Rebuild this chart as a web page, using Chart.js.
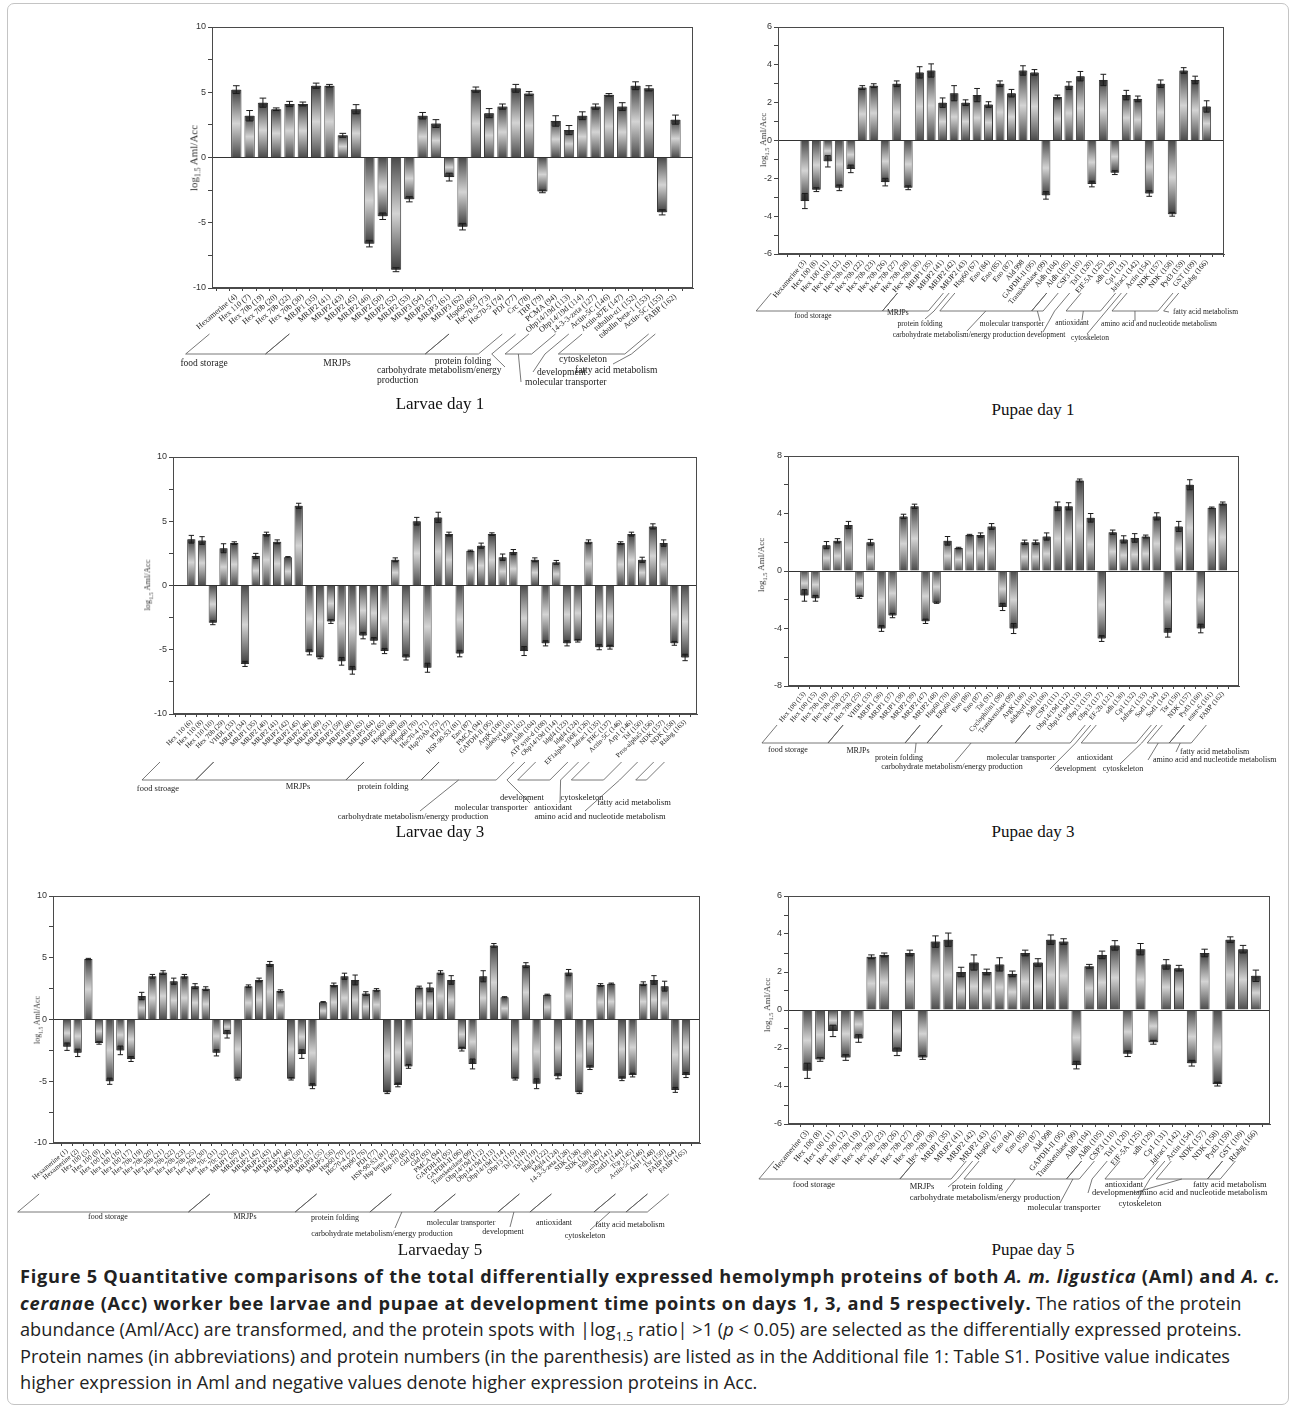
<!DOCTYPE html>
<html>
<head>
<meta charset="utf-8">
<title>Figure 5 - hemolymph proteins</title>
<script src="https://cdn.jsdelivr.net/npm/chart.js@4.4.1/dist/chart.umd.min.js"></script>
<style>
  body { margin: 0; width: 1295px; height: 1409px; position: relative; overflow: hidden; background: #fff; font-family: 'Liberation Serif', serif; }
  .frame { position: absolute; left: 7px; top: 3px; width: 1280px; height: 1400px; border: 1px solid #c4c4c4; border-radius: 7px; }
  .box { position: absolute; }
  .ytitle { position: absolute; transform: translate(-50%, -50%) rotate(-90deg); white-space: nowrap; color: #333; font-family: 'Liberation Serif', serif; }
  .ytitle sub { font-size: 70%; }
  .ptitle { position: absolute; transform: translate(-50%, -50%); font: 17px 'Liberation Serif', serif; color: #111; white-space: nowrap; }
  .cap { position: absolute; left: 20px; font: 18.2px 'Open Sans', sans-serif; color: #222; white-space: nowrap; }
  .cap b { letter-spacing: 0.75px; }
  .cap sub { font-size: 70%; }
</style>
</head>
<body>
<div class="frame"></div>

<script>
// ---- Larvae day 1 ----
const labelsL1 = ['Hexamerine (4)', 'Hex 110 (7)', 'Hex 70b (19)', 'Hex 70b (20)', 'Hex 70b (22)', 'Hex 70b (30)',
  'MRJP1 (35)', 'MRJP2 (41)', 'MRJP2 (43)', 'MRJP2 (45)', 'MRJP2 (46)', 'MRJP2 (50)', 'MRJP2 (52)', 'MRJP2 (53)',
  'MRJP3 (54)', 'MRJP3 (57)', 'MRJP3 (61)', 'MRJP3 (62)', 'Hsp60 (66)', 'Hsc70-5 (73)', 'Hsc70-5 (74)', 'PDI (77)',
  'Crc (78)', 'TRP (79)', 'PCMA (94)', 'Obp14/19d (113)', 'Obp14/19d (114)', '14-3-3-zeta (127)', 'Actin-5C (146)',
  'Actin-87E (147)', 'tubulin-α1 (152)', 'tubulin beta-1 (153)', 'Actin-5C (155)', 'FABP (162)'];
const valuesL1 = [5.2, 3.2, 4.2, 3.7, 4.1, 4.1, 5.5, 5.5, 1.7, 3.7, -6.6, -4.5, -8.6, -3.2, 3.2, 2.6, -1.5, -5.3,
  5.2, 3.4, 3.9, 5.3, 4.9, -2.6, 2.8, 2.1, 3.2, 3.9, 4.8, 3.9, 5.5, 5.3, -4.2, 2.9];
const errorsL1 = [0.3, 0.4, 0.35, 0.1, 0.2, 0.15, 0.2, 0.1, 0.15, 0.35, 0.25, 0.25, 0.15, 0.2, 0.25, 0.3, 0.3, 0.25,
  0.2, 0.35, 0.2, 0.3, 0.15, 0.1, 0.4, 0.35, 0.3, 0.2, 0.1, 0.3, 0.3, 0.2, 0.2, 0.35];
const groupsL1 = [['food storage', 0, 5], ['MRJPs', 6, 17], ['protein folding', 18, 21],
  ['carbohydrate metabolism/energy production', 22, 23], ['molecular transporter', 24, 25],
  ['development', 26, 27], ['cytoskeleton', 28, 32], ['fatty acid metabolism', 33, 33]];

// ---- Pupae day 1 ----
const labelsP1 = ['Hexamerine (3)', 'Hex 100 (8)', 'Hex 100 (11)', 'Hex 100 (12)', 'Hex 70b (19)', 'Hex 70b (22)',
  'Hex 70b (23)', 'Hex 70b (26)', 'Hex 70b (27)', 'Hex 70b (28)', 'Hex 70b (30)', 'MRJP1 (35)', 'MRJP2 (41)',
  'MRJP2 (42)', 'MRJP2 (43)', 'Hsp60 (67)', 'Eno (84)', 'Eno (85)', 'Eno (87)', 'Ald 998', 'GAPDH-II (95)',
  'Transketolase (99)', 'Aldh (104)', 'Aldh (105)', 'CSP3 (110)', 'Tsf1 (120)', 'EIF-5A (125)', 'sdh (129)',
  'Cp1 (131)', 'Jafrac1 (142)', 'Actin (154)', 'NDK (157)', 'NDK (158)', 'Pyd3 (159)', 'GST (109)', 'Rfabg (166)'];
const valuesP1 = [-3.2, -2.6, -1.1, -2.5, -1.5, 2.8, 2.9, -2.2, 3.0, -2.5, 3.6, 3.7, 2.0, 2.5, 2.0, 2.4, 1.9, 3.0,
  2.5, 3.7, 3.6, -2.9, 2.3, 2.9, 3.4, -2.3, 3.2, -1.7, 2.4, 2.2, -2.8, 3.0, -3.9, 3.7, 3.2, 1.8];
const errorsP1 = [0.4, 0.1, 0.3, 0.15, 0.2, 0.1, 0.1, 0.2, 0.15, 0.1, 0.3, 0.35, 0.25, 0.4, 0.15, 0.35, 0.15, 0.15,
  0.2, 0.25, 0.15, 0.2, 0.1, 0.2, 0.25, 0.15, 0.3, 0.1, 0.25, 0.15, 0.15, 0.2, 0.1, 0.15, 0.2, 0.3];
const groupsP1 = [['food storage', 0, 10], ['MRJPs', 11, 14], ['protein folding', 15, 15],
  ['carbohydrate metabolism/energy production', 16, 23], ['molecular transporter', 24, 24], ['development', 25, 26],
  ['antioxidant', 27, 29], ['cytoskeleton', 30, 30], ['amino acid and nucleotide metabolism', 31, 34],
  ['fatty acid metabolism', 35, 35]];

// ---- Larvae day 3 ----
const labelsL3 = ['Hex 110 (6)', 'Hex 110 (8)', 'Hex 110 (10)', 'Hex 70b (29)', 'VHDL (33)', 'MRJP1 (34)', 'MRJP1 (35)',
  'MRJP2 (40)', 'MRJP2 (41)', 'MRJP2 (42)', 'MRJP2 (45)', 'MRJP2 (46)', 'MRJP2 (49)', 'MRJP2 (51)', 'MRJP3 (59)',
  'MRJP3 (60)', 'MRJP3 (63)', 'MRJP5 (64)', 'MRJP5 (65)', 'Hsp60 (68)', 'Hsp60 (69)', 'Hsp60 (70)', 'Hsc70-4 (71)',
  'Hsp70Ab (75)', 'PDI (77)', 'HSP-90-S3 (81)', 'Eno (87)', 'PMCA (94)', 'GAPDH-II (95)', 'ArgK (100)',
  'aldehyd (101)', 'Mdh (102)', 'Aldh (104)', 'ATP synt-d (108)', 'Obp14/19d (114)', 'Idgf4 (123)', 'Idgf4 (124)',
  'EF1alpha 100E (126)', 'Jafrac1 (135)', 'FHC (137)', 'Actin-5C (146)', 'Arp1 (146)', 'Tsf (150)',
  'Pros-alpha5 (156)', 'NDK (157)', 'NDK (158)', 'Rfabg (163)'];
const valuesL3 = [3.6, 3.5, -2.9, 2.9, 3.3, -6.1, 2.3, 4.0, 3.4, 2.2, 6.2, -5.2, -5.6, -2.8, -5.9, -6.6, -3.9, -4.3,
  -5.1, 2.0, -5.6, 5.0, -6.4, 5.3, 4.0, -5.3, 2.7, 3.1, 4.0, 2.2, 2.6, -5.1, 2.0, -4.5, 1.8, -4.5, -4.3, 3.4, -4.8,
  -4.8, 3.3, 4.0, 2.0, 4.6, 3.3, -4.5, -5.6];
const errorsL3 = [0.3, 0.3, 0.15, 0.35, 0.1, 0.2, 0.2, 0.15, 0.15, 0.05, 0.2, 0.2, 0.1, 0.15, 0.3, 0.3, 0.25, 0.25,
  0.2, 0.15, 0.2, 0.3, 0.35, 0.4, 0.15, 0.25, 0.05, 0.2, 0.1, 0.25, 0.2, 0.35, 0.15, 0.2, 0.15, 0.2, 0.1, 0.15, 0.2,
  0.15, 0.1, 0.15, 0.2, 0.2, 0.25, 0.15, 0.25];
const groupsL3 = [['food stroage', 0, 4], ['MRJPs', 5, 18], ['protein folding', 19, 25],
  ['carbohydrate metabolism/energy production', 26, 32], ['molecular transporter', 33, 34], ['development', 35, 37],
  ['antioxidant', 38, 39], ['cytoskeleton', 40, 42], ['amino acid and nucleotide metabolism', 43, 45],
  ['fatty acid metabolism', 46, 46]];

// ---- Pupae day 3 ----
const labelsP3 = ['Hex 100 (13)', 'Hex 100 (15)', 'Hex 70b (19)', 'Hex 70b (20)', 'Hex 70b (23)', 'Hex 70b (25)',
  'VHDL (33)', 'MRJP1 (36)', 'MRJP1 (37)', 'MRJP1 (38)', 'MRJP2 (39)', 'MRJP2 (47)', 'MRJP2 (48)', 'Hsp60 (70)',
  'ERp60 (60)', 'Eno (86)', 'Eno (87)', 'Tal (91)', 'Cyclophilin1 (98)', 'Transketolase (99)', 'ArgK (100)',
  'aldehyd (101)', 'Aldh (106)', 'CSP3 (111)', 'Obp14/19d (112)', 'Obp14/19d (113)', 'Obp13 (115)', 'Obp13 (117)',
  'EF-2b (121)', 'sdh (130)', 'Cp1 (132)', 'Jafrac1 (133)', 'Sod1 (134)', 'Sod1 (143)', 'Tsr (150)', 'NDK (157)',
  'Pyd3 (160)', 'ester-6 (161)', 'FABP (162)'];
const valuesP3 = [-1.7, -1.9, 1.8, 2.1, 3.2, -1.8, 2.0, -4.0, -3.1, 3.8, 4.5, -3.5, -2.2, 2.1, 1.6, 2.5, 2.5, 3.1,
  -2.5, -4.0, 2.0, 2.0, 2.4, 4.5, 4.5, 6.3, 3.7, -4.7, 2.7, 2.2, 2.3, 2.4, 3.8, -4.3, 3.1, 6.0, -4.0, 4.4, 4.7];
const errorsP3 = [0.4, 0.2, 0.25, 0.15, 0.25, 0.1, 0.2, 0.2, 0.15, 0.15, 0.15, 0.15, 0.05, 0.3, 0.05, 0.05, 0.15, 0.2,
  0.25, 0.35, 0.15, 0.15, 0.25, 0.3, 0.25, 0.1, 0.3, 0.2, 0.15, 0.25, 0.3, 0.1, 0.25, 0.3, 0.35, 0.35, 0.3, 0.05, 0.1];
const groupsP3 = [['food storage', 0, 5], ['MRJPs', 6, 12], ['protein folding', 13, 14],
  ['carbohydrate metabolism/energy production', 15, 22], ['molecular transporter', 23, 27], ['development', 28, 28],
  ['antioxidant', 29, 33], ['cytoskeleton', 34, 34], ['amino acid and nucleotide metabolism', 35, 36],
  ['fatty acid metabolism', 37, 38]];

// ---- Larvae day 5 ----
const labelsL5 = ['Hexamerine (1)', 'Hexamerine (2)', 'Hex 100 (5)', 'Hex 100 (9)', 'Hex 100 (14)', 'Hex 100 (16)',
  'Hex 100 (17)', 'Hex 70b (19)', 'Hex 70b (20)', 'Hex 70b (21)', 'Hex 70b (22)', 'Hex 70b (23)', 'Hex 70b (25)',
  'Hex 70b (30)', 'Hex 70c (31)', 'Hex 70c (32)', 'MRJP1 (36)', 'MRJP2 (41)', 'MRJP2 (42)', 'MRJP2 (43)',
  'MRJP2 (44)', 'MRJP2 (46)', 'MRJP3 (50)', 'MRJP3 (51)', 'MRJP3 (55)', 'MRJP5 (56)', 'Hsp60 (70)', 'Hsc70-4 (72)',
  'Hsp90 (76)', 'PDI (77)', 'HSP-90-S3 (81)', 'Hsp beta-1 (82)', 'Hsp-10 (83)', 'Gld (92)', 'Gld (93)', 'PMCA (94)',
  'GAPDH-II (95)', 'GAPDH-II (96)', 'Transketolase (99)', 'Obp14/19d (112)', 'Obp14/19d (113)', 'Obp14/19d (114)',
  'Obp13 (116)', 'Tsf1 (118)', 'Tsf1 (119)', 'Idgf4 (122)', 'Idgf4 (124)', '14-3-3-zeta (128)', 'SDK (138)',
  'SDK (139)', 'Fdh (140)', 'cathD (141)', 'GstD1 (144)', 'Tcp (145)', 'Actin-5C (146)', 'Arp1 (148)', 'Tsr (150)',
  'FABP (164)', 'FABP (165)'];
const valuesL5 = [-2.2, -2.7, 4.9, -1.9, -5.0, -2.5, -3.2, 1.9, 3.5, 3.8, 3.1, 3.5, 2.7, 2.5, -2.7, -1.2, -4.8, 2.7,
  3.2, 4.5, 2.3, -4.8, -2.8, -5.4, 1.4, 2.8, 3.5, 3.2, 2.1, 2.4, -5.9, -5.3, -3.8, 2.6, 2.6, 3.8, 3.2, -2.4, -3.6,
  3.5, 6.0, 1.8, -4.8, 4.4, -5.2, 2.0, -4.6, 3.8, -5.9, -3.9, 2.8, 2.9, -4.8, -4.5, 2.9, 3.2, 2.7, -5.7, -4.5];
const errorsL5 = [0.3, 0.3, 0.05, 0.1, 0.25, 0.35, 0.2, 0.3, 0.15, 0.15, 0.25, 0.15, 0.2, 0.15, 0.25, 0.3, 0.1, 0.1,
  0.15, 0.2, 0.1, 0.1, 0.35, 0.2, 0.05, 0.15, 0.25, 0.4, 0.15, 0.1, 0.1, 0.15, 0.15, 0.1, 0.35, 0.15, 0.35, 0.15,
  0.4, 0.45, 0.15, 0.05, 0.1, 0.2, 0.4, 0.05, 0.2, 0.25, 0.1, 0.15, 0.1, 0.05, 0.15, 0.15, 0.15, 0.35, 0.4, 0.2, 0.2];
const groupsL5 = [['food storage', 0, 15], ['MRJPs', 16, 25], ['protein folding', 26, 32],
  ['carbohydrate metabolism/energy production', 33, 38], ['molecular transporter', 39, 44], ['development', 45, 47],
  ['antioxidant', 48, 53], ['cytoskeleton', 54, 56], ['fatty acid metabolism', 57, 58]];

// ---- Pupae day 5 ----
const labelsP5 = labelsP1.slice();
const valuesP5 = [-3.2, -2.6, -1.1, -2.5, -1.5, 2.8, 2.9, -2.2, 3.0, -2.5, 3.6, 3.7, 2.0, 2.5, 2.0, 2.4, 1.9, 3.0,
  2.5, 3.7, 3.6, -2.9, 2.3, 2.9, 3.4, -2.3, 3.2, -1.7, 2.4, 2.2, -2.8, 3.0, -3.9, 3.7, 3.2, 1.8];
const errorsP5 = [0.4, 0.1, 0.3, 0.15, 0.2, 0.1, 0.1, 0.2, 0.15, 0.1, 0.3, 0.35, 0.25, 0.4, 0.15, 0.35, 0.15, 0.15,
  0.2, 0.25, 0.15, 0.2, 0.1, 0.2, 0.25, 0.15, 0.3, 0.1, 0.25, 0.15, 0.15, 0.2, 0.1, 0.15, 0.2, 0.3];
const groupsP5 = groupsP1.slice();

// y axis: [min, max, minor step, labelled step]
const yAxisL = [-10, 10, 2.5, 5];
const yAxisP13 = [-6, 6, 1, 2];
const yAxisP3 = [-8, 8, 2, 4];

// ---- layout (page pixels) ----
const panels = [
  { labels: labelsL1, values: valuesL1, errors: errorsL1, groups: groupsL1, yAxis: yAxisL,
    area: [212, 27, 693, 288], xRange: [-1.31, 33.8], right: 700, bottom: 395,
    off: 66, D: 44, bh: 20, angle: 40, lf: 8, gf: 9.5, ytitle: [195, 158, 11], title: [440, 404, 'Larvae day 1'],
    text: [{ x: 204, y: 363, a: 'c', m: 'b' }, { x: 337, y: 363, a: 'c', m: 'b' }, { x: 463, y: 361, a: 'c', m: 'b' },
      { x: 377, y: 370, a: 'l', m: 's', lx: 505, ly: 367, w: 130 }, { x: 525, y: 382, a: 'l', m: 'b', lx: 521, ly: 382 },
      { x: 537, y: 372, a: 'l', m: 's', lx: 533, ly: 372 }, { x: 583, y: 359, a: 'c', m: 'b' },
      { x: 575, y: 370, a: 'l', m: 's', lx: 613, ly: 364 }] },
  { labels: labelsP1, values: valuesP1, errors: errorsP1, groups: groupsP1, yAxis: yAxisP13,
    area: [778, 27, 1224, 254], xRange: [-1.83, 36.0], right: 1262, bottom: 350,
    off: 57, D: 43, bh: 18, angle: 50, lf: 7.5, gf: 7.5, ytitle: [764, 140, 9], title: [1033, 410, 'Pupae day 1'],
    text: [{ x: 813, y: 316, a: 'c', m: 'b' }, { x: 887, y: 313, a: 'l', m: 'b' },
      { x: 920, y: 324, a: 'c', m: 's', lx: 925, ly: 319 }, { x: 959, y: 335, a: 'c', m: 'b', lx: 967, ly: 331 },
      { x: 1012, y: 324, a: 'c', m: 'b', lx: 1040, ly: 321 }, { x: 1046, y: 335, a: 'c', m: 's', lx: 1043, ly: 332 },
      { x: 1072, y: 323, a: 'c', m: 'b', lx: 1082, ly: 320 }, { x: 1090, y: 338, a: 'c', m: 's', lx: 1087, ly: 334 },
      { x: 1159, y: 324, a: 'c', m: 'b', lx: 1135, ly: 321 }, { x: 1173, y: 312, a: 'l', m: 's', lx: 1169, ly: 312 }] },
  { labels: labelsL3, values: valuesL3, errors: errorsL3, groups: groupsL3, yAxis: yAxisL,
    area: [173, 457, 697, 714], xRange: [-1.2, 46.6], right: 705, bottom: 825,
    off: 66, D: 44, bh: 18, angle: 45, lf: 7, gf: 8.5, ytitle: [148, 585, 8.5], title: [440, 832, 'Larvae day 3'],
    text: [{ x: 158, y: 789, a: 'c', m: 'b' }, { x: 298, y: 787, a: 'c', m: 'b' }, { x: 383, y: 787, a: 'c', m: 'b' },
      { x: 413, y: 817, a: 'c', m: 'b', lx: 420, ly: 811 }, { x: 491, y: 808, a: 'c', m: 's', lx: 530, ly: 803 },
      { x: 522, y: 798, a: 'c', m: 'b' }, { x: 553, y: 808, a: 'c', m: 's', lx: 560, ly: 803 },
      { x: 582, y: 798, a: 'c', m: 'b' }, { x: 600, y: 817, a: 'c', m: 's', lx: 585, ly: 811 },
      { x: 634, y: 803, a: 'c', m: 'b' }] },
  { labels: labelsP3, values: valuesP3, errors: errorsP3, groups: groupsP3, yAxis: yAxisP3,
    area: [788, 456, 1239, 686], xRange: [-0.97, 38.95], right: 1292, bottom: 780,
    off: 57, D: 37, bh: 18, angle: 50, lf: 7, gf: 8, ytitle: [762, 565, 9], title: [1033, 832, 'Pupae day 3'],
    text: [{ x: 788, y: 750, a: 'c', m: 'b' }, { x: 858, y: 751, a: 'c', m: 'b' },
      { x: 899, y: 758, a: 'c', m: 'b', lx: 915, ly: 753 }, { x: 952, y: 767, a: 'c', m: 'b', lx: 955, ly: 762 },
      { x: 1021, y: 758, a: 'c', m: 'b' }, { x: 1055, y: 769, a: 'l', m: 's', lx: 1050, ly: 769 },
      { x: 1095, y: 758, a: 'c', m: 'b' }, { x: 1123, y: 769, a: 'c', m: 's', lx: 1120, ly: 764 },
      { x: 1153, y: 760, a: 'l', m: 'b', lx: 1148, ly: 760 }, { x: 1180, y: 752, a: 'l', m: 'b', lx: 1176, ly: 752 }] },
  { labels: labelsL5, values: valuesL5, errors: errorsL5, groups: groupsL5, yAxis: yAxisL,
    area: [53, 896, 700, 1143], xRange: [-0.8, 58.8], right: 708, bottom: 1245,
    off: 69, D: 44, bh: 18, angle: 40, lf: 7, gf: 8, ytitle: [38, 1020, 8], title: [440, 1250, 'Larvaeday 5'],
    text: [{ x: 108, y: 1217, a: 'c', m: 'b' }, { x: 245, y: 1217, a: 'c', m: 'b' }, { x: 335, y: 1218, a: 'c', m: 'b' },
      { x: 382, y: 1234, a: 'c', m: 'b', lx: 395, ly: 1228 }, { x: 461, y: 1223, a: 'c', m: 'b' },
      { x: 503, y: 1232, a: 'c', m: 'b', lx: 510, ly: 1227 }, { x: 554, y: 1223, a: 'c', m: 'b' },
      { x: 585, y: 1236, a: 'c', m: 'b', lx: 590, ly: 1230 }, { x: 630, y: 1225, a: 'c', m: 'b' }] },
  { labels: labelsP5, values: valuesP5, errors: errorsP5, groups: groupsP5, yAxis: yAxisP13,
    area: [788, 896, 1270, 1124], xRange: [-0.985, 35.58], right: 1292, bottom: 1215,
    off: 55, D: 42, bh: 18, angle: 50, lf: 8, gf: 8.5, ytitle: [768, 1005, 9], title: [1033, 1250, 'Pupae day 5'],
    text: [{ x: 814, y: 1185, a: 'c', m: 'b' }, { x: 922, y: 1187, a: 'c', m: 'b' },
      { x: 952, y: 1187, a: 'l', m: 's', lx: 948, ly: 1187 }, { x: 985, y: 1198, a: 'c', m: 'b', lx: 1005, ly: 1193 },
      { x: 1064, y: 1208, a: 'c', m: 'b', lx: 1060, ly: 1203 }, { x: 1092, y: 1193, a: 'l', m: 's', lx: 1088, ly: 1193 },
      { x: 1124, y: 1185, a: 'c', m: 'b' }, { x: 1140, y: 1204, a: 'c', m: 's', lx: 1138, ly: 1199 },
      { x: 1136, y: 1193, a: 'l', m: 'b', lx: 1133, ly: 1193 }, { x: 1193, y: 1185, a: 'l', m: 'b' }] }
];

// vertical dark-light-dark fill for each bar
function barFill(c) {
  const chart = c.chart, ys = chart.scales.y;
  if (!ys || !chart.chartArea || !c.raw) return '#8a8a8a';
  const y0 = ys.getPixelForValue(0), y1 = ys.getPixelForValue(c.raw.y);
  if (!isFinite(y0) || !isFinite(y1) || Math.abs(y1 - y0) < 1) return '#8a8a8a';
  const g = chart.ctx.createLinearGradient(0, y0, 0, y1);
  g.addColorStop(0, '#4a4a4a');
  g.addColorStop(0.5, '#d4d4d4');
  g.addColorStop(1, '#3e3e3e');
  return g;
}

// error bars: dark inner band + whisker with caps
function errorBars(p) {
  return {
    id: 'errbars',
    afterDatasetsDraw(chart) {
      const ctx = chart.ctx, ys = chart.scales.y;
      const meta = chart.getDatasetMeta(0);
      ctx.save();
      meta.data.forEach((el, i) => {
        const v = p.values[i], e = p.errors[i], sg = v >= 0 ? 1 : -1;
        const yi = ys.getPixelForValue(v - sg * e), yo = ys.getPixelForValue(v + sg * e);
        const w = el.width;
        ctx.fillStyle = 'rgba(35,35,35,0.6)';
        ctx.fillRect(el.x - w / 2 + 1, Math.min(el.y, yi), w - 2, Math.abs(yi - el.y));
        ctx.strokeStyle = '#1c1c1c';
        ctx.lineWidth = 1;
        const cw = w * 0.32;
        ctx.beginPath();
        ctx.moveTo(el.x, yi); ctx.lineTo(el.x, yo);
        ctx.moveTo(el.x - cw, yo); ctx.lineTo(el.x + cw, yo);
        ctx.moveTo(el.x - cw, yi); ctx.lineTo(el.x + cw, yi);
        ctx.stroke();
      });
      ctx.restore();
    }
  };
}

function wrapText(ctx, text, maxW) {
  if (!maxW) return [text];
  const words = text.split(' '), lines = [];
  let cur = '';
  words.forEach(wd => {
    const t = cur ? cur + ' ' + wd : wd;
    if (cur && ctx.measureText(t).width > maxW) { lines.push(cur); cur = wd; } else cur = t;
  });
  lines.push(cur);
  return lines;
}

// frame, category brackets and group names
function deco(p, ox, oy) {
  return {
    id: 'deco',
    afterDraw(chart) {
      const ctx = chart.ctx, a = chart.chartArea, xs = chart.scales.x;
      ctx.save();
      ctx.strokeStyle = '#4a4a4a';
      ctx.lineWidth = 1;
      ctx.strokeRect(Math.round(a.left) + 0.5, Math.round(a.top) + 0.5, Math.round(a.right - a.left) - 1, Math.round(a.bottom - a.top) - 1);

      const step = xs.getPixelForValue(1) - xs.getPixelForValue(0);
      const yb = a.bottom + p.off;
      const dx = p.bh / Math.tan(p.angle * Math.PI / 180);
      ctx.strokeStyle = '#555';
      ctx.lineWidth = 0.8;
      ctx.font = p.gf + "px 'Liberation Serif'";
      ctx.fillStyle = '#222';
      ctx.textBaseline = 'middle';
      p.groups.forEach((g, k) => {
        const L = p.text[k];
        const xl = xs.getPixelForValue(g[1]) - step / 2 - p.D;
        const xr = xs.getPixelForValue(g[2]) + step / 2 - p.D;
        const xc = (xl + xr) / 2;
        ctx.beginPath();
        if (L.m === 'b') {
          ctx.moveTo(xl + dx, yb - p.bh); ctx.lineTo(xl, yb); ctx.lineTo(xr, yb); ctx.lineTo(xr + dx, yb - p.bh);
        } else {
          ctx.moveTo(xc + dx, yb - p.bh); ctx.lineTo(xc, yb);
        }
        if (L.lx !== undefined) { ctx.moveTo(L.lx - ox, L.ly - oy); ctx.lineTo(xc, yb); }
        ctx.stroke();
        ctx.textAlign = L.a === 'l' ? 'left' : 'center';
        const lines = wrapText(ctx, g[0], L.w);
        lines.forEach((ln, j) => ctx.fillText(ln, L.x - ox, L.y - oy + j * (p.gf + 1)));
      });
      ctx.restore();
    }
  };
}

function drawPanel(p) {
  const cl = p.area[0] - 48, ct = p.area[1] - 10;
  const w = p.right - cl, h = p.bottom - ct;
  const plotH = p.area[3] - p.area[1];
  const box = document.createElement('div');
  box.className = 'box';
  box.style.cssText = `left:${cl}px;top:${ct}px;width:${w}px;height:${h}px`;
  const cv = document.createElement('canvas');
  cv.width = w; cv.height = h;
  box.appendChild(cv);
  document.body.appendChild(box);

  const [ymin, ymax, ystep, ymajor] = p.yAxis;
  new Chart(cv, {
    type: 'bar',
    data: {
      datasets: [{
        data: p.values.map((v, i) => ({ x: i, y: v })),
        backgroundColor: barFill,
        borderColor: '#3a3a3a',
        borderWidth: 1,
        barPercentage: 0.78,
        categoryPercentage: 1
      }]
    },
    options: {
      responsive: false,
      animation: false,
      devicePixelRatio: 1,
      layout: { autoPadding: false, padding: { left: 0, top: 10, right: p.right - p.area[2], bottom: 0 } },
      plugins: { legend: { display: false }, tooltip: { enabled: false } },
      scales: {
        x: {
          type: 'linear',
          min: p.xRange[0],
          max: p.xRange[1],
          afterFit: s => { s.height = h - 10 - plotH; },
          border: { display: true, color: '#4a4a4a' },
          grid: { drawOnChartArea: false, drawTicks: true, tickLength: 3, tickColor: '#444' },
          ticks: {
            stepSize: 1, autoSkip: false, includeBounds: false, maxTicksLimit: 200,
            minRotation: p.angle, maxRotation: p.angle, padding: 1,
            color: '#222', font: { family: 'Liberation Serif', size: p.lf },
            callback: v => (Number.isInteger(v) && p.labels[v]) ? p.labels[v] : ''
          }
        },
        y: {
          min: ymin,
          max: ymax,
          afterFit: s => { s.width = 48; },
          border: { display: true, color: '#4a4a4a' },
          grid: {
            drawOnChartArea: true, drawTicks: true, tickLength: 4, tickColor: '#444',
            color: c => (c.tick && c.tick.value === 0) ? '#333' : 'rgba(0,0,0,0)'
          },
          ticks: {
            stepSize: ystep, padding: 2, color: '#333',
            font: { family: 'Liberation Sans', size: 9 },
            callback: v => (Math.abs(v % ymajor) < 1e-9 ? String(v) : '')
          }
        }
      }
    },
    plugins: [errorBars(p), deco(p, cl, ct)]
  });

  const yt = document.createElement('div');
  yt.className = 'ytitle';
  yt.style.cssText = `left:${p.ytitle[0]}px;top:${p.ytitle[1]}px;font-size:${p.ytitle[2]}px`;
  yt.innerHTML = 'log<sub>1.5</sub> Aml/Acc';
  document.body.appendChild(yt);

  const tt = document.createElement('div');
  tt.className = 'ptitle';
  tt.style.cssText = `left:${p.title[0]}px;top:${p.title[1]}px`;
  tt.textContent = p.title[2];
  document.body.appendChild(tt);
}

panels.forEach(drawPanel);

// caption
const captionLines = [
  '<b>Figure 5 Quantitative comparisons of the total differentially expressed hemolymph proteins of both <i>A. m. ligustica</i> (Aml) and <i>A. c.</i></b>',
  '<b><i>cerana</i>e (Acc) worker bee larvae and pupae at development time points on days 1, 3, and 5 respectively.</b> The ratios of the protein',
  'abundance (Aml/Acc) are transformed, and the protein spots with |log<sub>1.5</sub> ratio| &gt;1 (<i>p</i> &lt; 0.05) are selected as the differentially expressed proteins.',
  'Protein names (in abbreviations) and protein numbers (in the parenthesis) are listed as in the Additional file 1: Table S1. Positive value indicates',
  'higher expression in Aml and negative values denote higher expression proteins in Acc.'
];
captionLines.forEach((t, i) => {
  const d = document.createElement('div');
  d.className = 'cap';
  d.style.top = (1264 + i * 26.5) + 'px';
  d.innerHTML = t;
  document.body.appendChild(d);
});
</script>
</body>
</html>
